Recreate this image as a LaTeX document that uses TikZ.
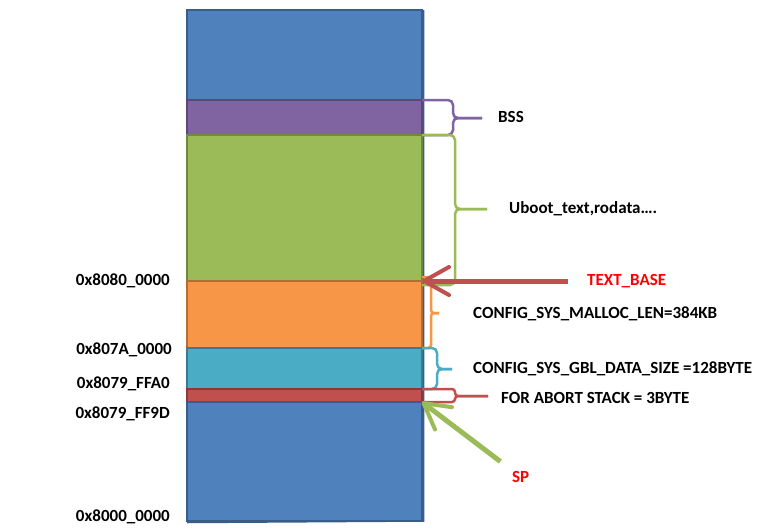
\documentclass[tikz,border=0pt]{standalone}
\usepackage{fontspec}
\setmainfont{Carlito}
\usetikzlibrary{arrows.meta,positioning}
\definecolor{freeblue}{HTML}{4F81BD}
\definecolor{freeblueline}{HTML}{385D8A}
\definecolor{bsspurple}{HTML}{8064A2}
\definecolor{bsspurpleline}{HTML}{5C4776}
\definecolor{textgreen}{HTML}{9BBB59}
\definecolor{textgreenline}{HTML}{71893F}
\definecolor{mallocorange}{HTML}{F79646}
\definecolor{mallocorangeline}{HTML}{B66D31}
\definecolor{gblcyan}{HTML}{4BACC6}
\definecolor{gblcyanline}{HTML}{357D91}
\definecolor{abortred}{HTML}{C0504D}
\definecolor{abortredline}{HTML}{8C3836}
\begin{document}
\begin{tikzpicture}[x=1pt,y=-1pt,
  every node/.style={font=\bfseries\fontsize{17}{20}\selectfont},
  seg/.style={draw,line width=2pt,minimum width=235pt,inner sep=0pt,outer sep=0pt},
  brc/.style={line width=2.5pt,rounded corners=5pt},
  ptr/.style={line width=5pt,-{Straight Barb[length=25pt,width=28pt,line width=4pt,round]}},
  addr/.style={anchor=east,inner sep=0pt},
  lbl/.style={anchor=west,inner sep=0pt}]
  \useasboundingbox (0,0) rectangle (769,531);
  \node[seg,fill=freeblue,draw=freeblueline,minimum height=90pt,anchor=north] (freetop) at (304.5,10) {};
  \node[seg,fill=bsspurple,draw=bsspurpleline,minimum height=35pt,below=0pt of freetop] (bss) {};
  \node[seg,fill=textgreen,draw=textgreenline,minimum height=146pt,below=0pt of bss] (text) {};
  \node[seg,fill=mallocorange,draw=mallocorangeline,minimum height=67pt,below=0pt of text] (malloc) {};
  \node[seg,fill=gblcyan,draw=gblcyanline,minimum height=41pt,below=0pt of malloc] (gbl) {};
  \node[seg,fill=abortred,draw=abortredline,minimum height=13pt,below=0pt of gbl] (abort) {};
  \node[seg,fill=freeblue,draw=freeblueline,minimum height=119pt,below=0pt of abort] (freebot) {};
  \draw[freeblueline,line width=1.5pt] ([xshift=1.5pt]freetop.north east) -- ([xshift=1.5pt]freebot.south east) -- ([yshift=-1.5pt]freebot.south west);

  \node[addr] (a80800000) at (170,281) {0x8080\_0000};
  \node[addr] (a807A0000) at (172,350) {0x807A\_0000};
  \node[addr] (a8079FFA0) at (170,384) {0x8079\_FFA0};
  \node[addr] (a8079FF9D) at (170,414) {0x8079\_FF9D};
  \node[addr] (a80000000) at (170,517) {0x8000\_0000};

  \node[lbl] (bsslbl) at (498,117) {BSS};
  \node[lbl] (textlbl) at (509,209) {Uboot\_text,rodata….};
  \node[lbl,text=red] (textbase) at (587,281) {TEXT\_BASE};
  \node[lbl] (malloclbl) at (473,314) {CONFIG\_SYS\_MALLOC\_LEN=384KB};
  \node[lbl] (gbllbl) at (473,369) {CONFIG\_SYS\_GBL\_DATA\_SIZE =128BYTE};
  \node[lbl] (abortlbl) at (501,398) {FOR ABORT STACK = 3BYTE};
  \node[lbl,text=red] (sp) at (512,477) {SP};

  \coordinate (bsstip) at (482,118);
  \draw[brc,bsspurple] (bsstip) -- (453,118) |- (bss.north east);
  \draw[brc,bsspurple] (bsstip) -- (453,118) |- (bss.south east);
  \coordinate (texttip) at (487,209);
  \draw[brc,textgreen] (texttip) -- (455,209) |- (text.north east);
  \draw[brc,textgreen] (texttip) -- (455,209) |- ([yshift=-4pt]text.south east);
  \coordinate (malloctip) at (439,313);
  \draw[brc,mallocorange,rounded corners=3pt] (malloctip) -- (431,313) |- ([yshift=4pt]malloc.north east);
  \draw[brc,mallocorange,rounded corners=3pt] (malloctip) -- (431,313) |- (malloc.south east);
  \coordinate (gbltip) at (452,369);
  \draw[brc,gblcyan] (gbltip) -- (437,369) |- (gbl.north east);
  \draw[brc,gblcyan] (gbltip) -- (437,369) |- (gbl.south east);
  \coordinate (aborttip) at (488,396);
  \draw[brc,abortred,rounded corners=3pt] (aborttip) -- (455,396) |- (abort.north east);
  \draw[brc,abortred,rounded corners=3pt] (aborttip) -- (455,396) |- (abort.south east);

  \draw[ptr,abortred,shorten <=19pt] (textbase) -- (malloc.north east);
  \draw[ptr,textgreen,shorten <=16pt] (sp) -- (abort.south east);
\end{tikzpicture}
\end{document}
